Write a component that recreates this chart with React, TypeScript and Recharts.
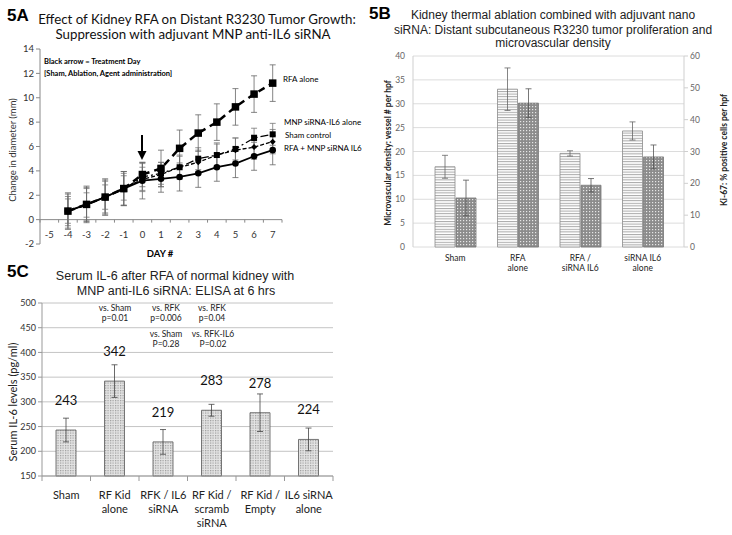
import React from "react";
import {
  LineChart,
  Line,
  XAxis,
  YAxis,
  ErrorBar,
  ReferenceLine,
  BarChart,
  Bar,
  CartesianGrid,
  LabelList,
} from "recharts";

const CAL = "Lato, 'Open Sans', sans-serif";
const ARIAL = "'Liberation Sans', Arial, sans-serif";

// 5A: tumour growth
const days = [-4, -3, -2, -1, 0, 1, 2, 3, 4, 5, 6, 7];
const dayTicks = [-5, -4, -3, -2, -1, 0, 1, 2, 3, 4, 5, 6, 7];
const rfaAlone = [0.7, 1.25, 1.85, 2.55, 3.7, 4.2, 5.85, 7.1, 8.0, 9.25, 10.3, 11.2];
const rfaAloneErr = [1.5, 1.5, 1.5, 1.4, 1.0, 1.5, 1.5, 1.5, 1.5, 1.5, 1.5, 1.5];
const shamControl = [0.7, 1.25, 1.85, 2.5, 3.5, 3.8, 4.3, 5.0, 5.3, 5.8, 6.7, 7.0];
const shamControlErr = [1.2, 1.3, 1.3, 1.3, 1.1, 0.9, 0.9, 0.9, 0.9, 0.9, 0.8, 0.9];
const mnpAlone = [0.7, 1.2, 1.85, 2.6, 3.3, 3.7, 4.3, 4.7, 5.3, 5.7, 5.95, 6.4];
const mnpAloneErr = [1.0, 1.0, 1.0, 1.0, 1.0, 1.0, 1.0, 1.0, 1.0, 1.0, 1.0, 1.0];
const rfaMnp = [0.7, 1.25, 1.85, 2.55, 3.2, 3.35, 3.5, 3.8, 4.3, 4.6, 5.2, 5.7];
const rfaMnpErr = [1.4, 1.4, 1.4, 1.4, 1.5, 1.1, 1.15, 1.15, 1.15, 1.15, 1.15, 1.2];

// 5B: MVD / Ki-67
const bGroups = ["Sham", "RFA\nalone", "RFA /\nsiRNA IL6", "siRNA IL6\nalone"];
const mvd = [16.8, 33.05, 19.6, 24.3];
const mvdErr = [2.4, 4.45, 0.55, 1.9];
const ki67 = [15.4, 45.2, 19.4, 28.3];
const ki67Err = [5.6, 4.5, 2.1, 3.75];

// 5C: serum IL-6
const cGroups = [
  "Sham",
  "RF Kid\nalone",
  "RFK / IL6\nsiRNA",
  "RF Kid /\nscramb\nsiRNA",
  "RF Kid /\nEmpty",
  "IL6 siRNA\nalone",
];
const il6 = [243, 342, 219, 283, 278, 224];
const il6Err = [24, 33, 25, 12, 38, 23];

const aData = days.map((d, i) => ({
  day: d,
  rfa: rfaAlone[i],
  rfaErr: rfaAloneErr[i],
  sham: shamControl[i],
  shamErr: shamControlErr[i],
  mnp: mnpAlone[i],
  mnpErr: mnpAloneErr[i],
  combo: rfaMnp[i],
  comboErr: rfaMnpErr[i],
}));

const bData = bGroups.map((g, i) => ({
  name: g,
  mvd: mvd[i],
  mvdErr: mvdErr[i],
  ki67: ki67[i],
  ki67Err: ki67Err[i],
}));

const cData = cGroups.map((g, i) => ({ name: g, il6: il6[i], il6Err: il6Err[i] }));

// panel A geometry
const A_W = 300;
const A_H = 262;
const A_TOP = 49;
const A_LEFT = 40;
const A_RIGHT = 18;
const A_XH = 18;
const A_PLOT_H = A_H - A_TOP - A_XH;
const A_PLOT_W = A_W - A_LEFT - A_RIGHT;

function DayTick(props: any) {
  const { x, payload } = props;
  const zeroY = A_TOP + A_PLOT_H * (14 / 16);
  const half = A_PLOT_W / 13 / 2;
  return (
    <g>
      <line x1={x - half} x2={x - half} y1={zeroY} y2={zeroY + 3} stroke="#888" />
      {payload.value === 7 && (
        <line x1={x + half} x2={x + half} y1={zeroY} y2={zeroY + 3} stroke="#888" />
      )}
      <text x={x} y={zeroY + 18} textAnchor="middle" fontSize={9.5} fill="#333" fontFamily={CAL}>
        {payload.value}
      </text>
    </g>
  );
}

const squareDot = (size: number) => (props: any) => {
  const { cx, cy, index } = props;
  if (cx == null || cy == null) return <g key={`s${index}`} />;
  return <rect key={`s${index}`} x={cx - size / 2} y={cy - size / 2} width={size} height={size} fill="#000" />;
};

const diamondDot = (props: any) => {
  const { cx, cy, index } = props;
  if (cx == null || cy == null) return <g key={`d${index}`} />;
  return (
    <polygon
      key={`d${index}`}
      points={`${cx},${cy - 3} ${cx + 3},${cy} ${cx},${cy + 3} ${cx - 3},${cy}`}
      fill="#000"
    />
  );
};

const circleDot = (props: any) => {
  const { cx, cy, index } = props;
  if (cx == null || cy == null) return <g key={`c${index}`} />;
  return <circle key={`c${index}`} cx={cx} cy={cy} r={3.3} fill="#000" />;
};

function MultiTick(props: any) {
  const { x, y, payload, fontSize, gap, first, boundary } = props;
  const lines = String(payload.value).split("\n");
  const half = payload.offset || 0;
  return (
    <g>
      {boundary && (
        <line x1={x - half} x2={x - half} y1={y - 8} y2={y - 3} stroke="#999" />
      )}
      {boundary && payload.index === boundary - 1 && (
        <line x1={x + half} x2={x + half} y1={y - 8} y2={y - 3} stroke="#999" />
      )}
      {lines.map((l, i) => (
        <text
          key={i}
          x={x}
          y={y + first + i * gap}
          textAnchor="middle"
          fontSize={fontSize}
          fill="#222"
          fontFamily={CAL}
        >
          {l}
        </text>
      ))}
    </g>
  );
}

const ValueLabel = (props: any) => {
  const { x, y, width, value } = props;
  return (
    <text x={x + width / 2} y={y - 25} textAnchor="middle" fontSize={13} fill="#111" fontFamily={CAL}>
      {value}
    </text>
  );
};

function Overlay() {
  return (
    <svg
      width={732}
      height={535}
      style={{ position: "absolute", left: 0, top: 0, pointerEvents: "none" }}
    >
      {/* 5A */}
      <text x={7} y={21} fontSize={17} fontWeight="bold" fontFamily={ARIAL}>5A</text>
      <text x={197} y={24} fontSize={13.3} textAnchor="middle" fontFamily={CAL} fill="#111">
        Effect of Kidney RFA on Distant R3230 Tumor Growth:
      </text>
      <text x={193} y={39} fontSize={13.3} textAnchor="middle" fontFamily={CAL} fill="#111">
        Suppression with adjuvant MNP anti-IL6 siRNA
      </text>
      <text x={44} y={64} fontSize={7.5} fontWeight="bold" fontFamily={CAL}>
        Black arrow = Treatment Day
      </text>
      <text x={44} y={76} fontSize={7.5} fontWeight="bold" fontFamily={CAL}>
        [Sham, Ablation, Agent administration]
      </text>
      <text x={283} y={82} fontSize={8} fontFamily={CAL}>RFA alone</text>
      <text x={284} y={125} fontSize={8} fontFamily={CAL}>MNP siRNA-IL6 alone</text>
      <text x={285} y={138} fontSize={8} fontFamily={CAL}>Sham control</text>
      <text x={284} y={151} fontSize={8} fontFamily={CAL}>RFA + MNP siRNA IL6</text>
      <line x1={142} x2={142} y1={135} y2={152} stroke="#000" strokeWidth={2} />
      <polygon points="137.5,151 146.5,151 142,160" fill="#000" />
      <text
        transform="translate(16,150) rotate(-90)"
        textAnchor="middle"
        fontSize={9.5}
        fontFamily={CAL}
        fill="#333"
      >
        Change in diameter (mm)
      </text>
      <text x={160} y={257} textAnchor="middle" fontSize={9.5} fontWeight="bold" fontFamily={CAL}>
        DAY #
      </text>

      {/* 5B */}
      <text x={369} y={19} fontSize={17} fontWeight="bold" fontFamily={ARIAL}>5B</text>
      <text x={553} y={19} fontSize={12} textAnchor="middle" fontFamily={ARIAL} fill="#222">
        Kidney thermal ablation combined with adjuvant nano
      </text>
      <text x={553} y={34} fontSize={12} textAnchor="middle" fontFamily={ARIAL} fill="#222">
        siRNA: Distant subcutaneous R3230 tumor proliferation and
      </text>
      <text x={553} y={47} fontSize={12} textAnchor="middle" fontFamily={ARIAL} fill="#222">
        microvascular density
      </text>
      <text
        transform="translate(391,153) rotate(-90)"
        textAnchor="middle"
        fontSize={8.5}
        fontWeight="bold"
        fontFamily={CAL}
        fill="#222"
      >
        Microvascular density: vessel # per hpf
      </text>
      <text
        transform="translate(727,150) rotate(-90)"
        textAnchor="middle"
        fontSize={8.5}
        fontWeight="bold"
        fontFamily={CAL}
        fill="#222"
      >
        Ki-67: % positive cells per hpf
      </text>

      {/* 5C */}
      <text x={7} y={277} fontSize={17} fontWeight="bold" fontFamily={ARIAL}>5C</text>
      <text x={175} y={280} fontSize={12.5} textAnchor="middle" fontFamily={ARIAL} fill="#222">
        Serum IL-6 after RFA of normal kidney with
      </text>
      <text x={176} y={295} fontSize={12.5} textAnchor="middle" fontFamily={ARIAL} fill="#222">
        MNP anti-IL6 siRNA: ELISA at 6 hrs
      </text>
      <g fontSize={8.5} fontFamily={CAL} fill="#222" textAnchor="middle">
        <text x={115} y={311}>vs. Sham</text>
        <text x={115} y={320.5}>p=0.01</text>
        <text x={166} y={311}>vs. RFK</text>
        <text x={166} y={320.5}>p=0.006</text>
        <text x={212} y={311}>vs. RFK</text>
        <text x={212} y={320.5}>p=0.04</text>
        <text x={166} y={337}>vs. Sham</text>
        <text x={166} y={346.5}>P=0.28</text>
        <text x={213} y={337}>vs. RFK-IL6</text>
        <text x={213} y={346.5}>P=0.02</text>
      </g>
      <text
        transform="translate(17,402) rotate(-90)"
        textAnchor="middle"
        fontSize={11}
        fontFamily={CAL}
        fill="#222"
      >
        Serum IL-6 levels (pg/ml)
      </text>
    </svg>
  );
}

export default function App() {
  return (
    <div style={{ position: "absolute", left: 0, top: 0, width: 732, height: 535, background: "#fff" }}>
      <div style={{ position: "absolute", left: 0, top: 0 }}>
        <LineChart
          width={A_W}
          height={A_H}
          data={aData}
          margin={{ top: A_TOP, right: A_RIGHT, left: 0, bottom: 0 }}
        >
          <XAxis
            dataKey="day"
            type="number"
            domain={[-5.5, 7.5]}
            ticks={dayTicks}
            axisLine={false}
            tickLine={false}
            height={A_XH}
            tick={<DayTick />}
            interval={0}
          />
          <YAxis
            domain={[-2, 14]}
            ticks={[-2, 0, 2, 4, 6, 8, 10, 12, 14]}
            width={A_LEFT}
            axisLine={{ stroke: "#888" }}
            tickLine={{ stroke: "#888" }}
            tickSize={4}
            tick={{ fontSize: 9.5, fill: "#333", fontFamily: CAL }}
          />
          <ReferenceLine y={0} stroke="#888" />
          <Line
            dataKey="combo"
            stroke="#000"
            strokeWidth={1.8}
            dot={circleDot}
            activeDot={false}
            isAnimationActive={false}
          >
            <ErrorBar dataKey="comboErr" direction="y" width={3} stroke="#666" strokeWidth={0.8} />
          </Line>
          <Line
            dataKey="mnp"
            stroke="#000"
            strokeWidth={1.3}
            strokeDasharray="4 2"
            dot={diamondDot}
            activeDot={false}
            isAnimationActive={false}
          >
            <ErrorBar dataKey="mnpErr" direction="y" width={3} stroke="#777" strokeWidth={0.8} />
          </Line>
          <Line
            dataKey="sham"
            stroke="#000"
            strokeWidth={1.3}
            strokeDasharray="8 3 2 3"
            dot={squareDot(6)}
            activeDot={false}
            isAnimationActive={false}
          >
            <ErrorBar dataKey="shamErr" direction="y" width={3} stroke="#777" strokeWidth={0.8} />
          </Line>
          <Line
            dataKey="rfa"
            stroke="#000"
            strokeWidth={2.5}
            strokeDasharray="7 5"
            dot={squareDot(7.5)}
            activeDot={false}
            isAnimationActive={false}
          >
            <ErrorBar dataKey="rfaErr" direction="y" width={3} stroke="#666" strokeWidth={0.8} />
          </Line>
        </LineChart>
      </div>

      <div style={{ position: "absolute", left: 366, top: 0 }}>
        <BarChart
          width={366}
          height={275}
          data={bData}
          margin={{ top: 56, right: 0, left: 0, bottom: 0 }}
          barSize={20}
          barGap={1}
        >
          <defs>
            <pattern id="hstripe" width="4" height="2.6" patternUnits="userSpaceOnUse">
              <rect width="4" height="2.6" fill="#fff" />
              <rect y="0" width="4" height="1" fill="#a8a8a8" />
            </pattern>
            <pattern id="darkdots" width="3" height="3" patternUnits="userSpaceOnUse">
              <rect width="3" height="3" fill="#8c8c8c" />
              <rect x="1" y="1" width="1.2" height="1.2" fill="#e6e6e6" />
            </pattern>
          </defs>
          <CartesianGrid yAxisId="left" vertical={false} stroke="#dcdcdc" />
          <XAxis
            dataKey="name"
            axisLine={false}
            tickLine={false}
            height={28}
            padding={{ left: 11, right: 10 }}
            interval={0}
            tick={<MultiTick fontSize={8.5} gap={10} first={6} />}
          />
          <YAxis
            yAxisId="left"
            domain={[0, 40]}
            ticks={[0, 5, 10, 15, 20, 25, 30, 35, 40]}
            width={47}
            axisLine={{ stroke: "#cfcfcf" }}
            tickLine={false}
            tick={{ fontSize: 8.5, fill: "#666", fontFamily: CAL }}
          />
          <YAxis
            yAxisId="right"
            orientation="right"
            domain={[0, 60]}
            ticks={[0, 10, 20, 30, 40, 50, 60]}
            width={48}
            axisLine={{ stroke: "#cfcfcf" }}
            tickLine={{ stroke: "#cfcfcf" }}
            tickSize={4}
            tick={{ fontSize: 8.5, fill: "#666", fontFamily: CAL }}
          />
          <Bar yAxisId="left" dataKey="mvd" fill="url(#hstripe)" stroke="#8a8a8a" strokeWidth={0.8} isAnimationActive={false}>
            <ErrorBar dataKey="mvdErr" direction="y" width={3} stroke="#666" strokeWidth={0.8} />
          </Bar>
          <Bar yAxisId="right" dataKey="ki67" fill="url(#darkdots)" stroke="#777" strokeWidth={0.8} isAnimationActive={false}>
            <ErrorBar dataKey="ki67Err" direction="y" width={3} stroke="#555" strokeWidth={0.8} />
          </Bar>
        </BarChart>
      </div>

      <div style={{ position: "absolute", left: 0, top: 290 }}>
        <BarChart
          width={345}
          height={245}
          data={cData}
          margin={{ top: 13, right: 12, left: 0, bottom: 0 }}
          barSize={20}
        >
          <defs>
            <pattern id="lightdots" width="2.5" height="2.5" patternUnits="userSpaceOnUse">
              <rect width="2.5" height="2.5" fill="#e4e4e4" />
              <rect width="1.2" height="1.2" fill="#9a9a9a" />
            </pattern>
          </defs>
          <CartesianGrid vertical={false} stroke="#c4c4c4" />
          <XAxis
            dataKey="name"
            axisLine={{ stroke: "#999" }}
            tickLine={false}
            height={59}
            interval={0}
            tick={<MultiTick fontSize={11} gap={14} first={15} boundary={cGroups.length} />}
          />
          <YAxis
            domain={[150, 500]}
            ticks={[150, 200, 250, 300, 350, 400, 450, 500]}
            width={42}
            axisLine={{ stroke: "#999" }}
            tickLine={{ stroke: "#999" }}
            tickSize={4}
            tick={{ fontSize: 9, fill: "#333", fontFamily: CAL }}
          />
          <Bar dataKey="il6" fill="url(#lightdots)" stroke="#666" strokeWidth={0.9} isAnimationActive={false}>
            <ErrorBar dataKey="il6Err" direction="y" width={3} stroke="#444" strokeWidth={0.8} />
            <LabelList dataKey="il6" content={<ValueLabel />} />
          </Bar>
        </BarChart>
      </div>

      <Overlay />
    </div>
  );
}
